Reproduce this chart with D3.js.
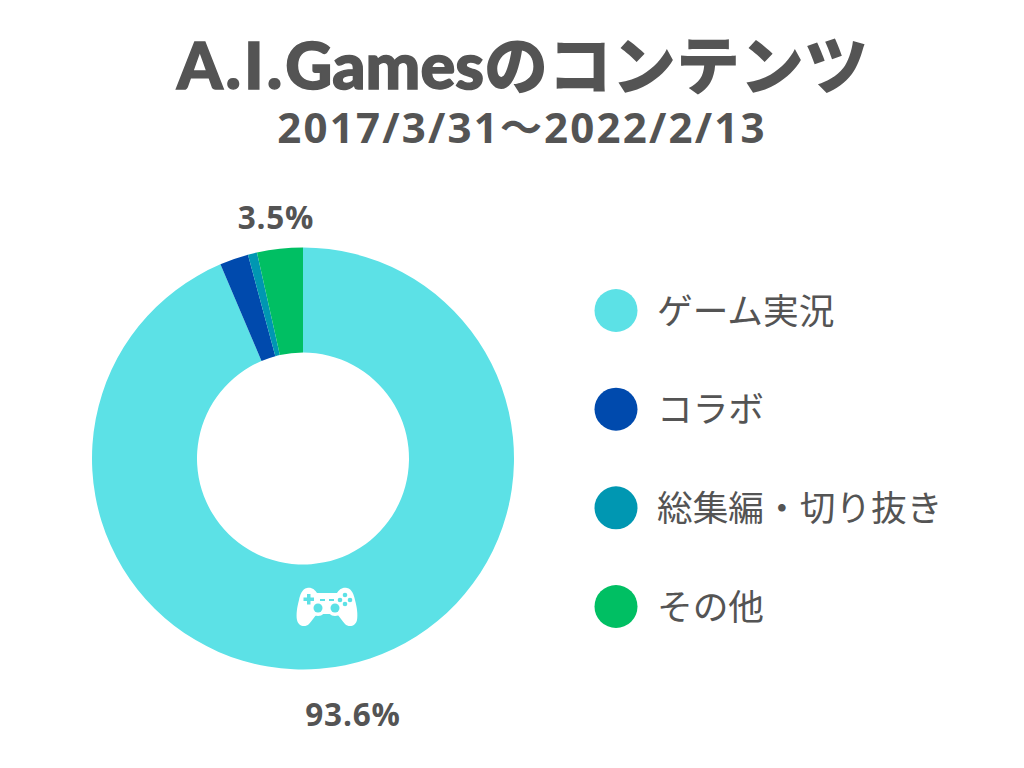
<!DOCTYPE html>
<html>
<head>
<meta charset="utf-8">
<script src="https://cdn.jsdelivr.net/npm/d3@7"></script>
<style>
  html, body { margin: 0; padding: 0; background: #fff; }
  text { fill: #545454; font-family: "Open Sans", "Noto Sans CJK JP", sans-serif; }
</style>
</head>
<body>
<div id="cntr"></div>
<script>
const categories = ["ゲーム実況", "コラボ", "総集編・切り抜き", "その他"];
const values = [93.6, 2.2, 0.7, 3.5];
const colors = ["#5ce1e6", "#004aad", "#0097b2", "#00bf63"];

const width = 1024, height = 768;
const cx = 303, cy = 458.5;

const svg = d3.select("#cntr")
    .append("svg")
    .attr("width", width)
    .attr("height", height)
    .style("display", "block");

// Title: the latin part is set in a narrower face than the kana
const title = svg.append("text")
    .attr("x", 522.5).attr("y", 89)
    .attr("text-anchor", "middle")
    .style("font-weight", 800);
title.append("tspan")
    .style("font-family", "Lato").style("font-weight", 900)
    .style("font-size", "65px").style("letter-spacing", "3px")
    .style("stroke", "#545454").style("stroke-width", "1.5px")
    .text("A.I.");
title.append("tspan")
    .style("font-family", "Lato").style("font-weight", 900)
    .style("font-size", "65px")
    .style("stroke", "#545454").style("stroke-width", "1.5px")
    .text("Games");
title.append("tspan")
    .style("font-size", "64px")
    .text("のコンテンツ");

svg.append("text")
    .attr("x", 522).attr("y", 143)
    .attr("text-anchor", "middle")
    .style("font-size", "42px").style("font-weight", 700)
    .style("letter-spacing", "2.2px")
    .text("2017/3/31〜2022/2/13");

// Donut, clockwise from 12 o'clock
const pie = d3.pie().sort(null)(values);
const arc = d3.arc().innerRadius(106).outerRadius(211);

svg.append("g")
    .attr("transform", `translate(${cx},${cy})`)
    .selectAll("path")
    .data(pie)
    .join("path")
    .attr("d", arc)
    .attr("fill", (d, i) => colors[i]);

// Only the first and last slices are labelled, outside the ring
function valueLabel(value, x, y) {
    svg.append("text")
        .attr("x", x).attr("y", y)
        .attr("text-anchor", "middle")
        .style("font-size", "31.5px").style("font-weight", 700)
        .style("letter-spacing", "0.8px")
        .text(value + "%");
}
valueLabel(values[0], 353, 726);
valueLabel(values[3], 276, 229);

// Legend
const legendY = d3.scalePoint().domain(categories).range([310.5, 606.5]);
const legend = svg.selectAll("g.legend")
    .data(categories)
    .join("g")
    .attr("class", "legend")
    .attr("transform", d => `translate(616,${legendY(d)})`);
legend.append("circle")
    .attr("r", 21.5)
    .attr("fill", (d, i) => colors[i]);
legend.append("text")
    .attr("x", 41).attr("y", 13)
    .style("font-size", "35.7px").style("font-weight", 400)
    .text(d => d);

// Game controller icon
const icon = svg.append("g").attr("transform", "translate(327,607)");
const white = icon.append("g").attr("fill", "#fff");
white.append("path")
    .attr("d", "M-20,-19 C-15,-20 -12,-17 -10,-14 L10,-14 C12,-17 15,-20 20,-19 C25,-18 27,-12 28,-7 C30,0 31,8 30,13 C29,19 22,21 18,17 C15,14 13,10 10,7 L-10,7 C-13,10 -15,14 -18,17 C-22,21 -29,19 -30,13 C-31,8 -30,0 -28,-7 C-27,-12 -25,-18 -20,-19 Z");
white.selectAll("circle")
    .data([[-9, 1], [8, 1]])
    .join("circle")
    .attr("cx", d => d[0]).attr("cy", d => d[1]).attr("r", 8);
const holes = icon.append("g").attr("fill", "#5ce1e6");
holes.append("path").attr("d", "M-20,-13 h3.5 v3.5 h3.5 v3.5 h-3.5 v3.5 h-3.5 v-3.5 h-3.5 v-3.5 h3.5 Z");
holes.append("rect").attr("x", -7).attr("y", -8).attr("width", 5).attr("height", 2);
holes.append("rect").attr("x", 2).attr("y", -8).attr("width", 5).attr("height", 2);
holes.selectAll("circle")
    .data([[-9, 1, 4.5], [8, 1, 4.5], [18, -12, 2.3], [18, -3, 2.3], [13, -7, 2.3], [23, -7, 2.3]])
    .join("circle")
    .attr("cx", d => d[0]).attr("cy", d => d[1]).attr("r", d => d[2]);
</script>
</body>
</html>
